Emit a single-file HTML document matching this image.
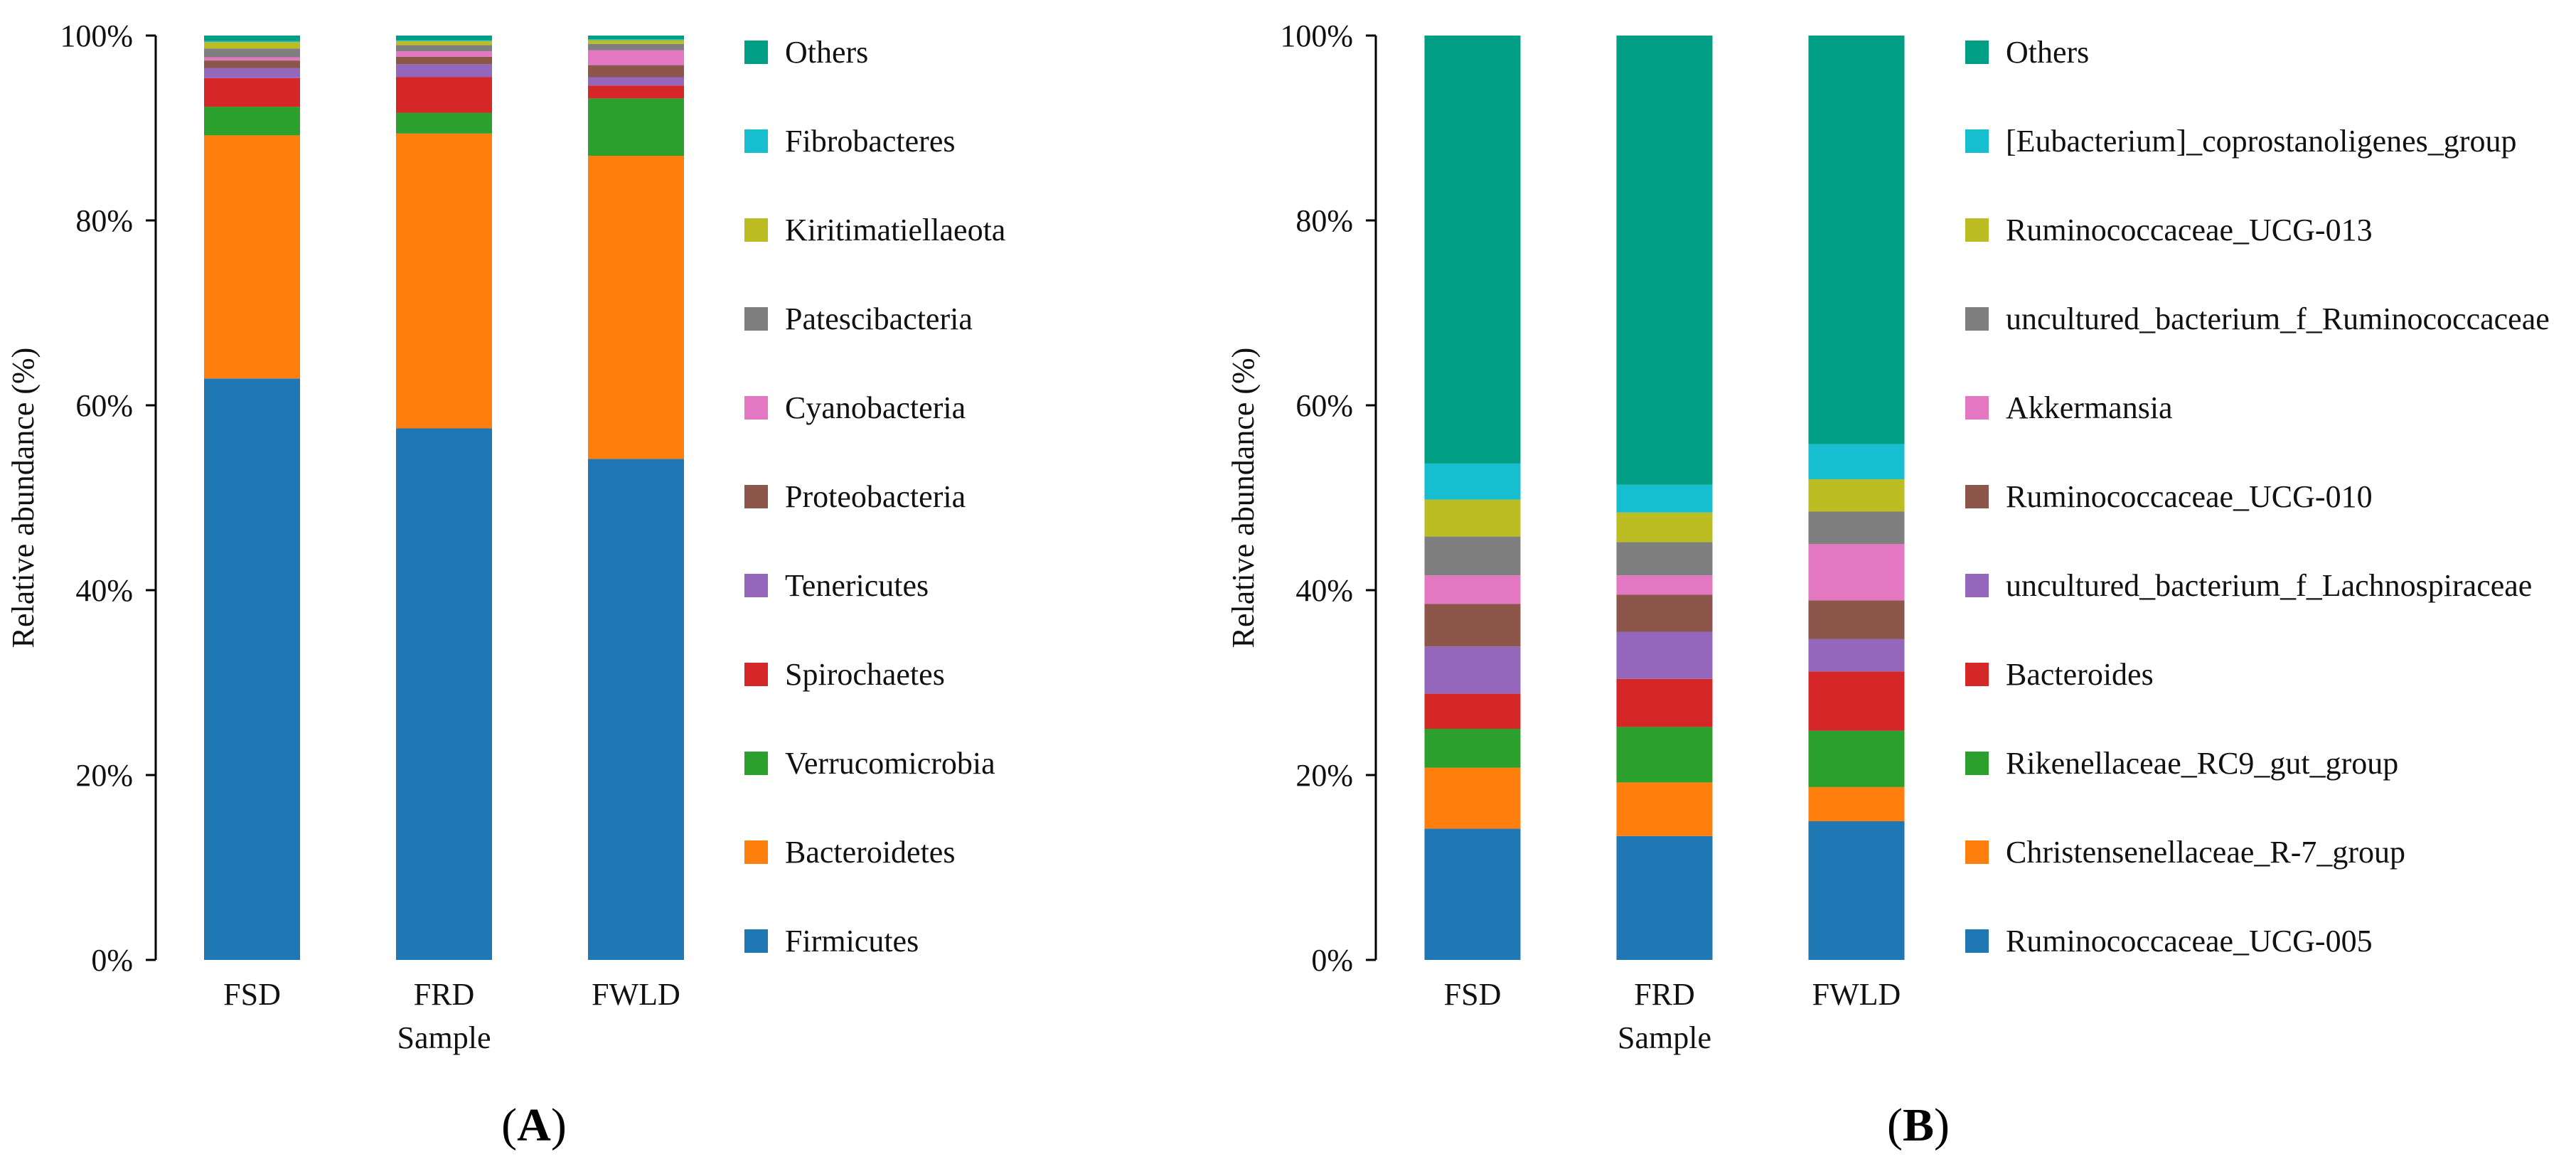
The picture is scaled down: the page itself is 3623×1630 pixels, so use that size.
<!DOCTYPE html>
<html><head><meta charset="utf-8"><title>Relative abundance</title>
<style>
html,body{margin:0;padding:0;background:#fff;}
svg{display:block;font-family:"Liberation Serif","Times New Roman",serif;}
</style></head>
<body>
<svg id="fig" width="3623" height="1630" viewBox="0 0 3623 1630" xmlns="http://www.w3.org/2000/svg"></svg>
<script>
const samples = ["FSD", "FRD", "FWLD"];
const tickLabels = ["0%", "20%", "40%", "60%", "80%", "100%"];
const tickValues = [0, 20, 40, 60, 80, 100];
const colors = ["#1f77b4","#ff7f0e","#2ca02c","#d62728","#9467bd","#8c564b","#e377c2","#7f7f7f","#bcbd22","#17becf","#009e84"];

const phylaNames = ["Firmicutes","Bacteroidetes","Verrucomicrobia","Spirochaetes","Tenericutes","Proteobacteria","Cyanobacteria","Patescibacteria","Kiritimatiellaeota","Fibrobacteres","Others"];
const phylaFSD  = [62.9, 26.3, 3.1, 3.1, 1.1, 0.8, 0.35, 0.95, 0.7, 0.1, 0.6];
const phylaFRD  = [57.5, 31.9, 2.25, 3.85, 1.4, 0.8, 0.6, 0.67, 0.43, 0.1, 0.5];
const phylaFWLD = [54.2, 32.8, 6.2, 1.4, 0.9, 1.3, 1.6, 0.7, 0.4, 0.1, 0.4];

const genusNames = ["Ruminococcaceae_UCG-005","Christensenellaceae_R-7_group","Rikenellaceae_RC9_gut_group","Bacteroides","uncultured_bacterium_f_Lachnospiraceae","Ruminococcaceae_UCG-010","Akkermansia","uncultured_bacterium_f_Ruminococcaceae","Ruminococcaceae_UCG-013","[Eubacterium]_coprostanoligenes_group","Others"];
const genusFSD  = [14.2, 6.6, 4.2, 3.8, 5.1, 4.6, 3.1, 4.2, 4.0, 3.9, 46.3];
const genusFRD  = [13.4, 5.8, 6.0, 5.2, 5.1, 4.0, 2.1, 3.6, 3.2, 3.0, 48.6];
const genusFWLD = [15.0, 3.7, 6.1, 6.4, 3.5, 4.2, 6.1, 3.5, 3.5, 3.8, 44.2];

const NS = "http://www.w3.org/2000/svg";
const svg = document.getElementById("fig");
function mk(tag, attrs, parent){
  const e = document.createElementNS(NS, tag);
  for (const k in attrs) e.setAttribute(k, attrs[k]);
  (parent||svg).appendChild(e);
  return e;
}
const Y0 = 1350, Y100 = 50;
function yScale(v){ return Y0 - (v/100)*(Y0-Y100); }

function panel(cfg){
  const g = mk("g", {});
  
  
  // axis
  const ax = mk("line", {x1:cfg.axisX, y1:Y100, x2:cfg.axisX, y2:Y0, stroke:"#000", "stroke-width":3}, g);
  
  
  tickValues.forEach((tv,i)=>{
    const y = yScale(tv);
    const t = mk("line", {x1:cfg.axisX-14, y1:y, x2:cfg.axisX, y2:y, stroke:"#000", "stroke-width":3}, g);
    
    
    const lb = mk("text", {x:cfg.axisX-32, y:y+15, "text-anchor":"end", "font-size":44, fill:"#111"}, g);
    lb.textContent = tickLabels[i];
    
    
  });
  const yt = mk("text", {x:0, y:0, "text-anchor":"middle", "font-size":44, fill:"#111",
    transform:"translate(" + (cfg.axisX-172) + "," + ((Y0+Y100)/2) + ") rotate(-90)"}, g);
  yt.textContent = "Relative abundance (%)";
  
  
  // bars
  const barW = 135, step = 270;
  cfg.series.forEach((vals, si)=>{
    const bx = cfg.barX0 + si*step;
    let cum = 0;
    vals.forEach((v, k)=>{
      const yTop = yScale(cum + v), yBot = yScale(cum);
      const r = mk("rect", {x:bx, y:yTop, width:barW, height:Math.max(0, yBot-yTop), fill:colors[k]}, g);
      
      
      cum += v;
    });
    const xl = mk("text", {x:bx+barW/2, y:1413, "text-anchor":"middle", "font-size":44, fill:"#111"}, g);
    xl.textContent = samples[si];
    
    
  });
  const xt = mk("text", {x:cfg.barX0+step+barW/2, y:1474, "text-anchor":"middle", "font-size":44, fill:"#111"}, g);
  xt.textContent = "Sample";
  
  
  // legend
  const n = cfg.names.length;
  for (let k = 0; k < n; k++){
    const idx = n-1-k;
    const cy = 73 + k*125;
    const sq = mk("rect", {x:cfg.legX, y:cy-16, width:33, height:33, fill:colors[idx]}, g);
    
    
    const lt = mk("text", {x:cfg.legX+57, y:cy+15, "font-size":44, fill:"#111"}, g);
    lt.textContent = cfg.names[idx];
    
    
  }
  const pl = mk("text", {x:cfg.labelX, y:1604, "text-anchor":"middle", "font-size":66, fill:"#000"}, g);
  pl.innerHTML = '(<tspan font-weight="bold">' + cfg.letter + '</tspan>)';
  
  
}

panel({id:"phylum", axisX:219, barX0:287, legX:1047, labelX:751, letter:"A",
  names:phylaNames, series:[phylaFSD, phylaFRD, phylaFWLD]});
panel({id:"genus", axisX:1935, barX0:2003.5, legX:2764, labelX:2698, letter:"B",
  names:genusNames, series:[genusFSD, genusFRD, genusFWLD]});
</script>
</body></html>
